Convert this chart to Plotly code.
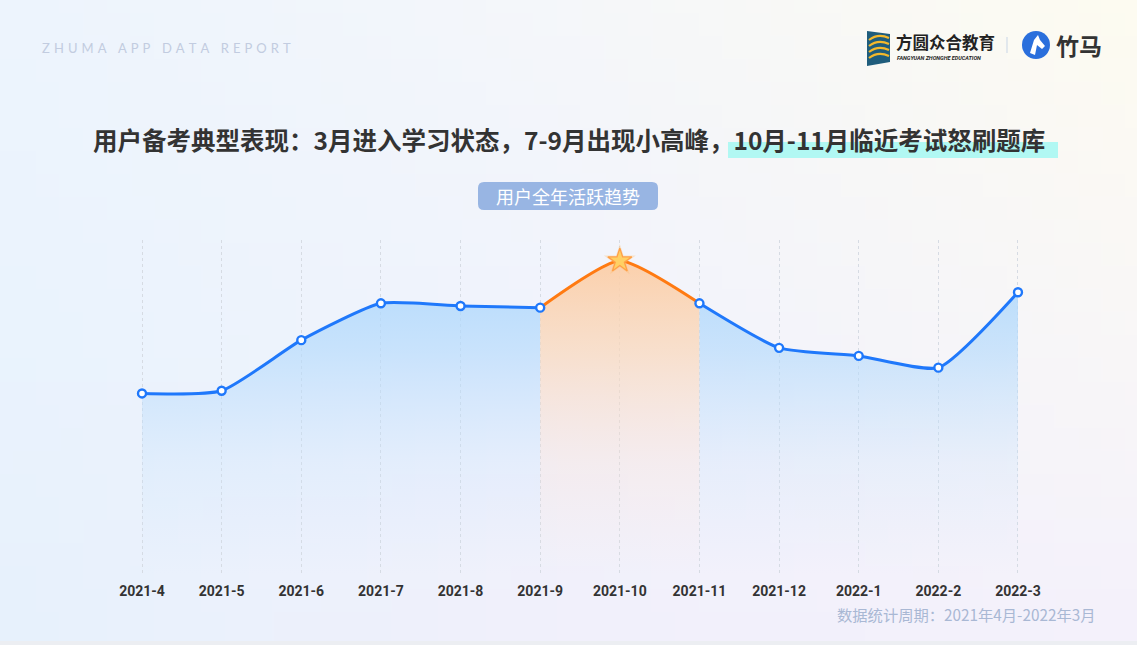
import base64, struct, zlib
import plotly.graph_objects as go

W, H = 1137, 645

# ---------------- data ----------------
months = ["2021-4", "2021-5", "2021-6", "2021-7", "2021-8", "2021-9",
          "2021-10", "2021-11", "2021-12", "2022-1", "2022-2", "2022-3"]
activity = [54.2, 55.0, 70.1, 81.1, 80.3, 79.8, 93.8, 81.1, 67.8, 65.4, 61.9, 84.4]
peak_start, peak_idx, peak_end = 5, 6, 7

title_text = "用户备考典型表现：3月进入学习状态，7-9月出现小高峰，10月-11月临近考试怒刷题库"
pill_text = "用户全年活跃趋势"
note_text = "数据统计周期：2021年4月-2022年3月"
brand_text = "ZHUMA APP DATA REPORT"

BLUE = "#1f78fb"
ORANGE = "#ff7a12"


# ---------------- helpers ----------------
def px(x):
    return x / W


def py(y):
    return 1 - y / H


def make_png(w, h, grid):
    def lerp(a, b, t):
        return tuple(a[i] + (b[i] - a[i]) * t for i in range(3))

    def hexrgb(c):
        c = c.lstrip("#")
        return tuple(int(c[i:i + 2], 16) for i in (0, 2, 4))

    g = [[hexrgb(c) for c in row] for row in grid]
    raw = b""
    for j in range(h):
        v = j / (h - 1) * 2
        r0 = min(int(v), 1)
        tv = v - r0
        row = b"\x00"
        for i in range(w):
            u = i / (w - 1) * 2
            c0 = min(int(u), 1)
            tu = u - c0
            top = lerp(g[r0][c0], g[r0][c0 + 1], tu)
            bot = lerp(g[r0 + 1][c0], g[r0 + 1][c0 + 1], tu)
            col = lerp(top, bot, tv)
            row += bytes(int(round(x)) for x in col)
        raw += row

    def chunk(tag, data):
        c = struct.pack(">I", len(data)) + tag + data
        return c + struct.pack(">I", zlib.crc32(tag + data) & 0xffffffff)

    png = b"\x89PNG\r\n\x1a\n"
    png += chunk(b"IHDR", struct.pack(">IIBBBBB", w, h, 8, 2, 0, 0, 0))
    png += chunk(b"IDAT", zlib.compress(raw, 9))
    png += chunk(b"IEND", b"")
    return "data:image/png;base64," + base64.b64encode(png).decode()


bg_grid = [
    ["#edf4fd", "#f5f7fa", "#fdfbf1"],
    ["#eaf3fd", "#f1f3fc", "#f9f7f7"],
    ["#e7f1fc", "#f1f0fb", "#f4f1fb"],
]
bg_src = make_png(48, 28, bg_grid)

blue_grad = dict(type="vertical", start=0, stop=95,
                 colorscale=[[0, "rgba(200,225,252,0)"],
                             [0.35, "rgba(195,224,252,0.25)"],
                             [0.7, "rgba(180,218,252,0.65)"],
                             [1, "rgba(170,214,252,0.9)"]])
orange_grad = dict(type="vertical", start=0, stop=95,
                   colorscale=[[0, "rgba(250,225,215,0)"],
                               [0.35, "rgba(250,222,210,0.3)"],
                               [0.7, "rgba(250,215,185,0.7)"],
                               [1, "rgba(252,205,165,0.95)"]])

fig = go.Figure()

seg1 = slice(0, peak_start + 1)
seg2 = slice(peak_start, peak_end + 1)
seg3 = slice(peak_end, len(months))

for sl, col, grad in [(seg1, BLUE, blue_grad), (seg2, ORANGE, orange_grad), (seg3, BLUE, blue_grad)]:
    fig.add_trace(go.Scatter(
        x=months[sl], y=activity[sl], mode="lines",
        line=dict(color=col, width=3, shape="spline", smoothing=0.55),
        fill="tozeroy", fillgradient=grad, hoverinfo="skip", showlegend=False))

mk_x = [m for i, m in enumerate(months) if i != peak_idx]
mk_y = [v for i, v in enumerate(activity) if i != peak_idx]
fig.add_trace(go.Scatter(
    x=mk_x, y=mk_y, mode="markers",
    marker=dict(size=8, color="white", line=dict(color=BLUE, width=2.4)),
    hoverinfo="skip", showlegend=False))
fig.add_trace(go.Scatter(
    x=[months[peak_idx]], y=[activity[peak_idx]], mode="markers",
    marker=dict(symbol="star", size=24, color="rgba(255,190,110,0.35)", line=dict(width=0)),
    hoverinfo="skip", showlegend=False))
fig.add_trace(go.Scatter(
    x=[months[peak_idx]], y=[activity[peak_idx]], mode="markers",
    marker=dict(symbol="star", size=18, color="#ffd064", line=dict(color="#ffa048", width=1.3)),
    hoverinfo="skip", showlegend=False))

shapes = []
shapes.append(dict(type="rect", xref="paper", yref="paper", x0=px(728), x1=px(1058),
                   y0=py(158), y1=py(142), fillcolor="#b1f8f3", line=dict(width=0), layer="below"))
x0, x1, y0, y1, r = 478, 658, 182, 210, 6
pill = (f"M {px(x0 + r)} {py(y0)} L {px(x1 - r)} {py(y0)} Q {px(x1)} {py(y0)} {px(x1)} {py(y0 + r)} "
        f"L {px(x1)} {py(y1 - r)} Q {px(x1)} {py(y1)} {px(x1 - r)} {py(y1)} "
        f"L {px(x0 + r)} {py(y1)} Q {px(x0)} {py(y1)} {px(x0)} {py(y1 - r)} "
        f"L {px(x0)} {py(y0 + r)} Q {px(x0)} {py(y0)} {px(x0 + r)} {py(y0)} Z")
shapes.append(dict(type="path", xref="paper", yref="paper", path=pill,
                   fillcolor="#98b5e3", line=dict(width=0)))
shapes.append(dict(type="rect", xref="paper", yref="paper", x0=0, x1=1, y0=0, y1=py(641),
                   fillcolor="#eceef2", line=dict(width=0)))
icon = (f"M {px(867)} {py(31)} L {px(890)} {py(34)} L {px(890)} {py(62)} L {px(867)} {py(66)} Z")
shapes.append(dict(type="path", xref="paper", yref="paper", path=icon,
                   fillcolor="#1f5d7c", line=dict(width=0)))
for k in range(4):
    yy = 36 + k * 6
    shapes.append(dict(type="path", xref="paper", yref="paper",
                       path=f"M {px(869)} {py(yy + 4)} Q {px(878)} {py(yy - 3)} {px(889)} {py(yy + 2)}",
                       line=dict(color="#f4b92c", width=2.2)))
shapes.append(dict(type="line", xref="paper", yref="paper", x0=px(1007), x1=px(1007),
                   y0=py(37), y1=py(53), line=dict(color="#c9d5e6", width=1)))
shapes.append(dict(type="circle", xref="paper", yref="paper", x0=px(1022), x1=px(1050),
                   y0=py(59), y1=py(31), fillcolor="#2a6fdc", line=dict(width=0)))
horse = (f"M {px(1030)} {py(53)} L {px(1034)} {py(40)} L {px(1038)} {py(35)} L {px(1040)} {py(40)} "
         f"L {px(1045)} {py(46)} L {px(1042)} {py(49)} L {px(1037)} {py(45)} L {px(1035)} {py(55)} Z")
shapes.append(dict(type="path", xref="paper", yref="paper", path=horse,
                   fillcolor="white", line=dict(width=0)))

annotations = [
    dict(text="\u2009\u2009\u200a".join(brand_text), x=px(40), y=py(48), xref="paper", yref="paper",
         xanchor="left", yanchor="middle", showarrow=False,
         font=dict(family="Lato, Open Sans", size=13, color="#c2cce0")),
    dict(text=title_text, x=px(569), y=py(139), xref="paper", yref="paper",
         xanchor="center", yanchor="middle", showarrow=False,
         font=dict(family="Noto Sans CJK SC", size=24.5, color="#333333", weight="bold")),
    dict(text=pill_text, x=px(568), y=py(196), xref="paper", yref="paper",
         xanchor="center", yanchor="middle", showarrow=False,
         font=dict(family="Noto Sans CJK SC", size=18, color="white")),
    dict(text=note_text, x=px(1097), y=py(614), xref="paper", yref="paper",
         xanchor="right", yanchor="middle", showarrow=False,
         font=dict(family="Noto Sans CJK SC", size=15.3, color="#a9b8d4")),
    dict(text="方圆众合教育", x=px(894), y=py(42), xref="paper", yref="paper",
         xanchor="left", yanchor="middle", showarrow=False,
         font=dict(family="Noto Sans CJK SC", size=16.5, color="#222222", weight="bold")),
    dict(text="<i>FANGYUAN ZHONGHE EDUCATION</i>", x=px(895), y=py(57.5), xref="paper", yref="paper",
         xanchor="left", yanchor="middle", showarrow=False,
         font=dict(family="Roboto", size=5.5, color="#222222", weight="bold")),
    dict(text="竹马", x=px(1054), y=py(45), xref="paper", yref="paper",
         xanchor="left", yanchor="middle", showarrow=False,
         font=dict(family="Noto Sans CJK SC", size=23, color="#333333", weight="bold")),
]

fig.update_layout(
    width=W, height=H, margin=dict(l=0, r=0, t=0, b=0),
    paper_bgcolor="#eef3fb", plot_bgcolor="rgba(0,0,0,0)",
    images=[dict(source=bg_src, xref="paper", yref="paper", x=0, y=1, sizex=1, sizey=1,
                 sizing="stretch", xanchor="left", yanchor="top", layer="below")],
    shapes=shapes, annotations=annotations, showlegend=False,
    xaxis=dict(domain=[px(142 - 39.8), px(1018 + 39.8)], range=[-0.5, 11.5],
               type="category", categoryorder="array", categoryarray=months,
               showgrid=True, gridcolor="#d6dbe3", griddash="dot", gridwidth=1,
               zeroline=False, showline=False, ticks="", ticklabelstandoff=6,
               tickfont=dict(family="Roboto", size=14, color="#333333", weight="bold")),
    yaxis=dict(domain=[py(575), py(240)], range=[0, 100], visible=False,
               showgrid=False, zeroline=False),
)

fig.write_html("out.html")
